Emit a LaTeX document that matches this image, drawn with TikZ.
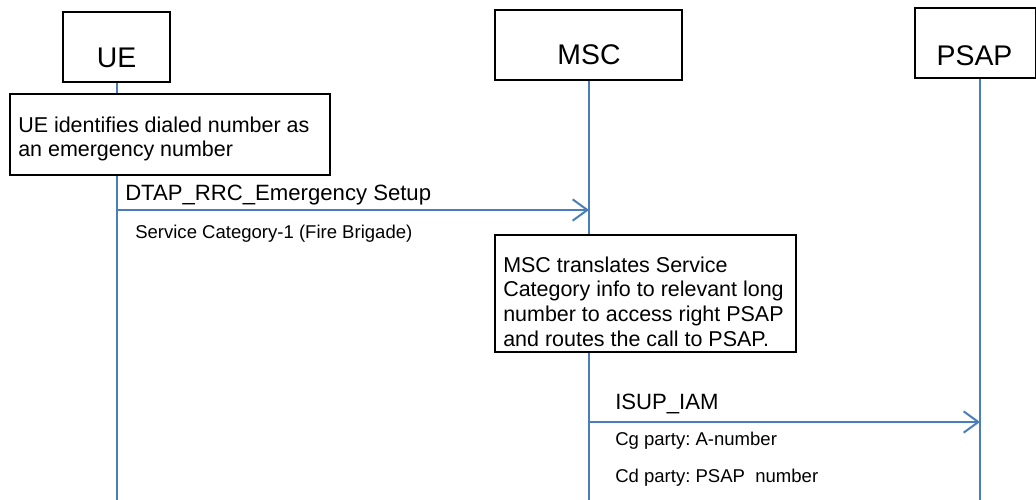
\documentclass[tikz,border=0pt]{standalone}
\usepackage{fontspec}
\setmainfont{Liberation Sans}
\usetikzlibrary{arrows.meta}
\definecolor{lifeblue}{RGB}{74,126,187}
\frenchspacing
\begin{document}
\begin{tikzpicture}[x=0.75pt,y=-0.75pt,
  hdrbox/.style={draw=black,line width=1pt,fill=white,inner sep=0pt},
  hdrtext/.style={anchor=base,inner sep=0pt,font=\fontsize{21.3}{25}\selectfont},
  notebox/.style={draw=black,line width=1pt,fill=white,inner sep=0pt},
  notetext/.style={anchor=north west,inner sep=0pt,align=left,font=\fontsize{16.1}{18.5}\selectfont},
  life/.style={draw=lifeblue,line width=1.5pt},
  msg/.style={draw=lifeblue,line width=1.5pt,-{Straight Barb[length=11pt,width=16pt,line width=1.5pt]}},
  msglabel/.style={anchor=base west,inner sep=0pt,font=\fontsize{16.6}{19}\selectfont},
  param/.style={anchor=base west,inner sep=0pt,font=\fontsize{13.9}{16}\selectfont\frenchspacing}]
\useasboundingbox (0,0) rectangle (1036,500);
\clip (0,0) rectangle (1036,500);

% header boxes
\node[hdrbox,minimum width=80.25pt,minimum height=52.5pt] (ue) at (116.5,47) {};
\node[hdrbox,minimum width=140.25pt,minimum height=52.5pt] (msc) at (588.5,45) {};
\node[hdrbox,minimum width=90.75pt,minimum height=52.5pt] (psap) at (975.5,43) {};
\node[hdrtext] (uetxt) at (116.5,67) {UE};
\node[hdrtext] (msctxt) at (589,64) {MSC};
\node[hdrtext] (psaptxt) at (974.5,65) {PSAP};

% lifeline ends
\coordinate (ueend) at (117,500);
\coordinate (mscend) at (589,500);
\coordinate (psapend) at (980,500);
\draw[life] (ue.south -| ueend) -- (ueend);
\draw[life] (msc.south -| mscend) -- (mscend);
\draw[life] (psap.south -| psapend) -- (psapend);

% UE note
\node[notebox,minimum width=240pt,minimum height=60.75pt] (uenote) at (170,134.5) {};
\node[notetext] (uenotetxt) at (18,116.5) {UE identifies dialed number as\\an emergency number};

% message 1
\coordinate (m1s) at (117,210);
\coordinate (m1e) at (589,210);
\draw[msg] (m1s) -- (m1e);
\node[msglabel] (m1lbl) at (125,200) {DTAP\_RRC\_Emergency Setup};
\node[param] (m1par) at (135,238) {Service Category-1 (Fire Brigade)};

% MSC note
\node[notebox,minimum width=225.75pt,minimum height=87.75pt] (mscnote) at (645.5,293.5) {};
\node[notetext] (mscnotetxt) at (503,256.5) {MSC translates Service\\Category info to relevant long\\number to access right PSAP\\and routes the call to PSAP.};

% message 2
\coordinate (m2s) at (589,422);
\coordinate (m2e) at (980,422);
\draw[msg] (m2s) -- (m2e);
\node[msglabel] (m2lbl) at (615,409) {ISUP\_IAM};
\node[param] (m2par1) at (615,445) {Cg party: A-number};
\node[param] (m2par2) at (615,482) {Cd party: PSAP~ number};
\end{tikzpicture}
\end{document}
